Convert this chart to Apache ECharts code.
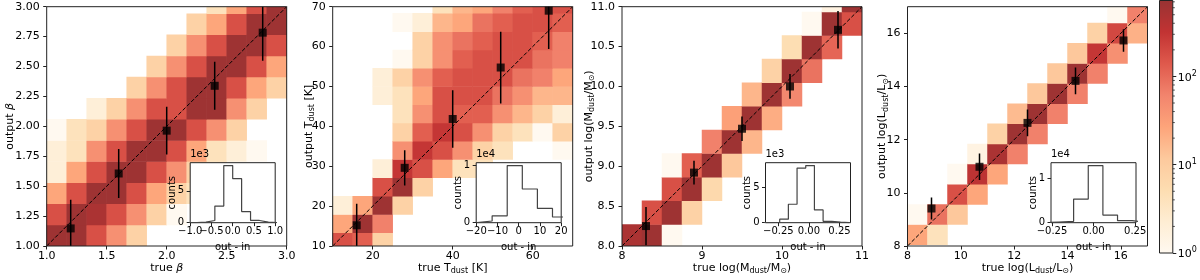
<!DOCTYPE html>
<html><head><meta charset="utf-8">
<script src="https://cdn.jsdelivr.net/npm/echarts@6/dist/echarts.min.js"></script>
<style>html,body{margin:0;padding:0;background:#fff}#c{width:1200px;height:280px}</style>
</head><body><div id="c"></div>
<script>
// ---------------- DATA ----------------
const p1Counts = [
 [650,650,170,45,8,0,0,0,0,0,0,0],
 [170,650,500,170,45,8,1,0,0,0,0,0],
 [26,170,650,650,170,26,8,4,0,0,0,0],
 [2,26,170,650,650,170,45,8,4,0,0,0],
 [2,4,45,170,650,650,170,26,4,2,1,0],
 [1,4,8,45,170,650,650,170,45,8,0,0],
 [0,0,2,8,45,170,170,650,650,45,8,0],
 [0,0,0,0,8,45,170,650,650,170,26,8],
 [0,0,0,0,0,8,45,170,650,650,170,26],
 [0,0,0,0,0,0,8,45,170,650,650,170],
 [0,0,0,0,0,0,0,8,26,170,650,650],
 [0,0,0,0,0,0,0,0,4,26,170,650]
];
const p2Counts = [
 [170,125,8,0,0,0,0,0,0,0,0,0],
 [26,650,65,0,0,0,0,0,0,0,0,0],
 [2,26,650,8,0,0,0,0,0,0,0,0],
 [0,0,170,650,8,0,0,0,0,0,0,0],
 [0,0,2,300,170,26,4,4,0,0,0,0],
 [0,0,0,45,300,170,45,8,4,0,0,1],
 [0,0,0,8,125,300,170,45,8,4,1,8],
 [0,0,0,4,45,170,125,125,45,18,8,2],
 [0,0,2,4,26,170,170,170,85,45,18,18],
 [0,0,2,8,45,125,170,170,170,85,65,26],
 [0,0,0,1,8,45,125,170,170,170,85,65],
 [0,0,0,0,8,45,85,125,170,170,125,65],
 [0,0,0,1,2,18,26,85,125,170,170,125],
 [0,0,0,0,0,4,18,26,65,125,170,170]
];
const p3Counts = [
 [500,650,1,0,0,0,0,0,0,0,0,0],
 [0,170,650,8,0,0,0,0,0,0,0,0],
 [0,0,170,650,6,0,0,0,0,0,0,0],
 [0,0,1,125,650,12,0,0,0,0,0,0],
 [0,0,0,0,65,650,18,0,0,0,0,0],
 [0,0,0,0,0,30,650,22,0,0,0,0],
 [0,0,0,0,0,0,18,650,55,0,0,0],
 [0,0,0,0,0,0,0,8,650,85,0,0],
 [0,0,0,0,0,0,0,0,5,650,110,0],
 [0,0,0,0,0,0,0,0,0,1,650,170],
 [0,0,0,0,0,0,0,0,0,0,1.5,650]
];
const p4Counts = [
 [26,4,0,0,0,0,0,0,0,0,0,0],
 [1,85,12,0,0,0,0,0,0,0,0,0],
 [0,0,170,26,0,0,0,0,0,0,0,0],
 [0,0,1,350,26,0,0,0,0,0,0,0],
 [0,0,0,1.5,500,65,0,0,0,0,0,0],
 [0,0,0,0,8,650,65,0,0,0,0,0],
 [0,0,0,0,0,16,650,65,0,0,0,0],
 [0,0,0,0,0,0,12,650,65,0,0,0],
 [0,0,0,0,0,0,0,12,650,65,0,0],
 [0,0,0,0,0,0,0,0,12,300,45,0],
 [0,0,0,0,0,0,0,0,0,8,200,20],
 [0,0,0,0,0,0,0,0,0,0,1,65]
];
const p1XBin = [1, 2/12], p1YBin = [1, 0.1765];
const p2XBin = [10, 5],   p2YBin = [8.75, 4.583];
const p3XBin = [8, 0.25], p3YBin = [7.975, 0.296];
const p4XBin = [8, 0.75], p4YBin = [8.05, 0.7575];

const p1MedX = [1.2,1.6,2.0,2.4,2.8], p1MedY = [1.147,1.606,1.964,2.339,2.783], p1Err = [0.24,0.205,0.2,0.2,0.235];
const p2MedX = [16,28,40,52,64],     p2MedY = [15.2,29.6,41.85,54.75,69.0],   p2Err = [5.4,4.4,7.2,9.0,9.6];
const p3MedX = [8.3,8.9,9.5,10.1,10.7], p3MedY = [8.25,8.92,9.47,10.0,10.71], p3Err = [0.24,0.15,0.155,0.155,0.235];
const p4MedX = [8.9,10.7,12.5,14.3,16.1], p4MedY = [9.41,10.98,12.63,14.21,15.73], p4Err = [0.41,0.5,0.5,0.5,0.42];

const h1Edges = [-1.05,-0.84,-0.63,-0.42,-0.21,0.0,0.21,0.42,0.63,0.84,1.05];
const h1Counts = [20,100,350,2600,8950,6900,1750,350,100,20];
const h2Edges = [-19.6,-12.5,-5.4,1.7,8.8,15.9,23.0];
const h2Counts = [300,1200,10000,5900,2500,1000];
const h3Edges = [-0.381,-0.31,-0.239,-0.168,-0.097,-0.026,0.045,0.116,0.187,0.258,0.329];
const h3Counts = [10,60,500,2600,7700,8050,1800,200,100,10];
const h4Edges = [-0.296,-0.208,-0.12,-0.032,0.056,0.144,0.232,0.32];
const h4Counts = [150,300,5300,12800,1700,450,80];

const p1Range = [1,3], p1XTicks = [1,1.5,2,2.5,3], p1XLabels = ['1.0','1.5','2.0','2.5','3.0'];
const p1YTicks = [1,1.25,1.5,1.75,2,2.25,2.5,2.75,3], p1YLabels = ['1.00','1.25','1.50','1.75','2.00','2.25','2.50','2.75','3.00'];
const p2Range = [10,70], p2XTicks = [20,40,60], p2XLabels = ['20','40','60'];
const p2YTicks = [10,20,30,40,50,60,70], p2YLabels = ['10','20','30','40','50','60','70'];
const p3Range = [8,11], p3XTicks = [8,9,10,11], p3XLabels = ['8','9','10','11'];
const p3YTicks = [8,8.5,9,9.5,10,10.5,11], p3YLabels = ['8.0','8.5','9.0','9.5','10.0','10.5','11.0'];
const p4Range = [8,17], p4XTicks = [8,10,12,14,16], p4XLabels = ['8','10','12','14','16'];
const p4YTicks = p4XTicks, p4YLabels = p4XLabels;

const i1XRange = [-1,1], i1XTicks = [-1,-0.5,0,0.5,1], i1XLabels = ['\u22121.0','\u22120.5','0.0','0.5','1.0'];
const i1YMax = 9400, i1YTicks = [0,5000], i1YLabels = ['0','5'], i1Off = '1e3';
const i2XRange = [-20,20], i2XTicks = [-20,-10,0,10,20], i2XLabels = ['\u221220','\u221210','0','10','20'];
const i2YMax = 10500, i2YTicks = [0,10000], i2YLabels = ['0','1'], i2Off = '1e4';
const i3XRange = [-0.355,0.34], i3XTicks = [-0.25,0,0.25], i3XLabels = ['\u22120.25','0.00','0.25'];
const i3YMax = 8450, i3YTicks = [0,5000], i3YLabels = ['0','5'], i3Off = '1e3';
const i4XRange = [-0.256,0.255], i4XTicks = [-0.25,0,0.25], i4XLabels = ['\u22120.25','0.00','0.25'];
const i4YMax = 13440, i4YTicks = [0,10000], i4YLabels = ['0','1'], i4Off = '1e4';

const cbLogMax = 2.86;
const cbTicks = [0,1,2], cbLabels = ['0','1','2'];
const cbMinor = [2,3,4,5,6,7,8,9,20,30,40,50,60,70,80,90,200,300,400,500,600,700];

// ---------------- STYLE / LAYOUT ----------------
const FONT = 'DejaVu Sans';
const AX = '#222';
const PANEL_LEFT = [46.7, 332.7, 622, 907.5];
const PANEL_TOP = 6.7, PANEL_SIZE = 240;
const INSET_DX = 143.5, INSET_TOP = 162.7, INSET_W = 85, INSET_H = 60;
const CMAP = [[0,[255,249,240]],[0.125,[254,237,211]],[0.25,[253,221,177]],[0.375,[253,201,157]],
  [0.5,[253,164,122]],[0.625,[242,132,109]],[0.75,[223,89,76]],[0.875,[194,51,51]],[1,[153,51,51]]];
function cmap(t){
  t = Math.max(0, Math.min(1, t));
  for (let i = 1; i < CMAP.length; i++) {
    if (t <= CMAP[i][0] + 1e-9) {
      const a = CMAP[i-1], b = CMAP[i], f = (t - a[0]) / (b[0] - a[0]);
      const c = a[1].map((v,k) => Math.round(v + (b[1][k] - v) * f));
      return 'rgb(' + c.join(',') + ')';
    }
  }
  return 'rgb(153,51,51)';
}
function lab(vals, labels){ return function(v){ for (let i=0;i<vals.length;i++) if (Math.abs(vals[i]-v) < 1e-7) return labels[i]; return ''; }; }

const nameStyle = {
  fontSize: 11, color: '#000', fontFamily: FONT, lineHeight: 14,
  rich: {
    g: {fontSize: 11, fontStyle: 'italic', fontFamily: FONT, lineHeight: 14, color:'#000'},
    s: {fontSize: 8, fontFamily: FONT, lineHeight: 8, verticalAlign: 'bottom', color:'#000'}
  }
};
const smallName = {fontSize:10, color:'#000', fontFamily:FONT};
function axis(grid, range, ticks, labels, fs, margin, extra){
  return Object.assign({
    type: 'value', gridIndex: grid, min: range[0], max: range[1], z: 5,
    nameMoveOverlap: false,
    splitLine: {show:false}, axisLine: {show:false, onZero:false},
    axisTick: {show:true, inside:false, length:3.5, customValues: ticks, lineStyle:{color:AX, width:1}},
    axisLabel: {show:true, customValues: ticks, formatter: lab(ticks, labels), fontSize: fs, color: '#000', margin: margin,
      fontFamily: FONT, hideOverlap: false, showMinLabel: true, showMaxLabel: true}
  }, extra || {});
}

const grids = [], xAxes = [], yAxes = [], series = [], graphics = [];
const panels = [
  {counts:p1Counts, xb:p1XBin, yb:p1YBin, r:p1Range, xt:p1XTicks, xl:p1XLabels, yt:p1YTicks, yl:p1YLabels,
   mx:p1MedX, my:p1MedY, me:p1Err, xn:'true {g|β}', yn:'output {g|β}', yg:30,
   he:h1Edges, hc:h1Counts, ixr:i1XRange, ixt:i1XTicks, ixl:i1XLabels, iym:i1YMax, iyt:i1YTicks, iyl:i1YLabels, off:i1Off},
  {counts:p2Counts, xb:p2XBin, yb:p2YBin, r:p2Range, xt:p2XTicks, xl:p2XLabels, yt:p2YTicks, yl:p2YLabels,
   mx:p2MedX, my:p2MedY, me:p2Err, xn:'true T{s|dust} [K]', yn:'output T{s|dust} [K]', yg:17,
   he:h2Edges, hc:h2Counts, ixr:i2XRange, ixt:i2XTicks, ixl:i2XLabels, iym:i2YMax, iyt:i2YTicks, iyl:i2YLabels, off:i2Off},
  {counts:p3Counts, xb:p3XBin, yb:p3YBin, r:p3Range, xt:p3XTicks, xl:p3XLabels, yt:p3YTicks, yl:p3YLabels,
   mx:p3MedX, my:p3MedY, me:p3Err, xn:'true log(M{s|dust}/M{s|\u2299})', yn:'output log(M{s|dust}/M{s|\u2299})', yg:26,
   he:h3Edges, hc:h3Counts, ixr:i3XRange, ixt:i3XTicks, ixl:i3XLabels, iym:i3YMax, iyt:i3YTicks, iyl:i3YLabels, off:i3Off},
  {counts:p4Counts, xb:p4XBin, yb:p4YBin, r:p4Range, xt:p4XTicks, xl:p4XLabels, yt:p4YTicks, yl:p4YLabels,
   mx:p4MedX, my:p4MedY, me:p4Err, xn:'true log(L{s|dust}/L{s|\u2299})', yn:'output log(L{s|dust}/L{s|\u2299})', yg:18,
   he:h4Edges, hc:h4Counts, ixr:i4XRange, ixt:i4XTicks, ixl:i4XLabels, iym:i4YMax, iyt:i4YTicks, iyl:i4YLabels, off:i4Off}
];

// main panels: grids 0..3, xAxis 0..3, yAxis 0..3
panels.forEach((p, i) => {
  grids.push({left: PANEL_LEFT[i], top: PANEL_TOP, width: PANEL_SIZE, height: PANEL_SIZE, show: true,
    borderColor: AX, borderWidth: 1, backgroundColor: 'transparent', z: 3});
  xAxes.push(axis(i, p.r, p.xt, p.xl, 11, 5, {name: p.xn, nameLocation:'middle', nameGap: 15, nameTextStyle: nameStyle}));
  yAxes.push(axis(i, p.r, p.yt, p.yl, 11, 7, {name: p.yn, nameLocation:'middle', nameGap: p.yg, nameTextStyle: nameStyle}));
});
// insets: grids 4..7, xAxis 4..7 (even ticks) and 8..11 (odd ticks), yAxis 4..7
panels.forEach((p, i) => {
  const g = 4 + i;
  const left = PANEL_LEFT[i] + INSET_DX;
  grids.push({left: left, top: INSET_TOP, width: INSET_W, height: INSET_H, show: true,
    borderColor: AX, borderWidth: 1, backgroundColor: '#fff', z: 4});
  const evT = p.ixt.filter((v,k) => k % 2 === 0), evL = p.ixl.filter((v,k) => k % 2 === 0);
  xAxes.push(axis(g, p.ixr, evT, evL, 10, 4, {position:'bottom', name:'out - in', nameLocation:'middle', nameGap: 20, nameTextStyle: smallName}));
  yAxes.push(axis(g, [0, p.iym], p.iyt, p.iyl, 10, 6, {position:'left', name:'counts', nameLocation:'middle', nameGap: 13, nameTextStyle: smallName}));
  graphics.push({type:'text', left: left, top: INSET_TOP - 13, z: 10, silent: true,
    style:{text: p.off, fontSize: 10, fontFamily: FONT, fill:'#000'}});
});
panels.forEach((p, i) => {
  const odT = p.ixt.filter((v,k) => k % 2 === 1), odL = p.ixl.filter((v,k) => k % 2 === 1);
  xAxes.push(axis(4 + i, p.ixr, odT, odL, 10, 4, {position:'bottom', offset: 0}));
});
// colorbar: grid 8, xAxis 12, yAxis 8
grids.push({left: 1159.5, top: 0.5, width: 13.3, height: 252.5, show: true, borderColor: AX, borderWidth: 1, backgroundColor:'transparent', z: 4});
xAxes.push({type:'value', gridIndex: 8, min:0, max:1, show:false});
yAxes.push({type:'value', gridIndex: 8, min:0, max:cbLogMax, position:'right', z:5,
  splitLine:{show:false}, axisLine:{show:false, onZero:false},
  axisTick:{show:true, inside:false, length:3.5, customValues: cbTicks, lineStyle:{color:AX}},
  axisLabel:{show:true, customValues: cbTicks, margin: 5, formatter: function(v){ return '{n|10}{u|' + lab(cbTicks, cbLabels)(v) + '}'; },
    rich:{ n:{fontSize:11, fontFamily:FONT, color:'#000', lineHeight:14, verticalAlign:'bottom'}, u:{fontSize:8, fontFamily:FONT, color:'#000', lineHeight:8, verticalAlign:'top'} } }
});
const CB_X = 12, CB_Y = 8;

function cellData(mat, xb, yb){
  const out = [];
  mat.forEach((row, r) => row.forEach((v, c) => {
    if (v > 0) out.push([xb[0] + c*xb[1], xb[0] + (c+1)*xb[1], yb[0] + r*yb[1], yb[0] + (r+1)*yb[1], v]);
  }));
  return out;
}
function renderCell(params, api){
  const a = api.coord([api.value(0), api.value(2)]);
  const b = api.coord([api.value(1), api.value(3)]);
  return {type:'rect', shape:{x: a[0]-0.25, y: b[1]-0.25, width: b[0]-a[0]+0.5, height: a[1]-b[1]+0.5},
    style:{fill: cmap(Math.log10(api.value(4)) / cbLogMax)}};
}
function renderErr(params, api){
  const x = api.value(0), y = api.value(1), e = api.value(2);
  const a = api.coord([x, y - e]), b = api.coord([x, y + e]);
  return {type:'line', shape:{x1:a[0], y1:a[1], x2:b[0], y2:b[1]}, style:{stroke:'#000', lineWidth:1.5}};
}
function histPoints(edges, counts){
  const pts = [[edges[0], 0]];
  counts.forEach((c, k) => { pts.push([edges[k], c]); pts.push([edges[k+1], c]); });
  pts.push([edges[edges.length-1], 0]);
  return pts;
}
panels.forEach((p, i) => {
  series.push({type:'custom', xAxisIndex:i, yAxisIndex:i, z:1, clip:true, renderItem: renderCell, data: cellData(p.counts, p.xb, p.yb), silent:true});
  series.push({type:'line', xAxisIndex:i, yAxisIndex:i, z:2, symbol:'none', data:[[p.r[0], p.r[0]], [p.r[1], p.r[1]]],
    lineStyle:{color:'#000', width:1, type:[4,2]}, silent:true});
  series.push({type:'custom', xAxisIndex:i, yAxisIndex:i, z:2, clip:true, renderItem: renderErr,
    data: p.mx.map((x, k) => [x, p.my[k], p.me[k]]), silent:true});
  series.push({type:'scatter', xAxisIndex:i, yAxisIndex:i, z:3, symbol:'rect', symbolSize:8, itemStyle:{color:'#000'},
    data: p.mx.map((x, k) => [x, p.my[k]]), silent:true});
  series.push({type:'line', xAxisIndex:4+i, yAxisIndex:4+i, z:6, symbol:'none', showSymbol:false, clip:true, data: histPoints(p.he, p.hc),
    lineStyle:{color:'#444', width:1.2}, silent:true});
});
series.push({type:'custom', xAxisIndex:CB_X, yAxisIndex:CB_Y, z:2, clip:false, silent:true, data:[[0, 0, 1, cbLogMax]],
  renderItem: function(params, api){
    const a = api.coord([api.value(0), api.value(1)]), b = api.coord([api.value(2), api.value(3)]);
    return {type:'rect', shape:{x:a[0], y:b[1], width:b[0]-a[0], height:a[1]-b[1]},
      style:{fill: new echarts.graphic.LinearGradient(0, 1, 0, 0, CMAP.map(s => ({offset:s[0], color:'rgb(' + s[1].join(',') + ')'})))}};
  }});
series.push({type:'custom', xAxisIndex:CB_X, yAxisIndex:CB_Y, z:5, clip:false, silent:true, data: cbMinor.map(v => [1, Math.log10(v)]),
  renderItem: function(params, api){
    const a = api.coord([api.value(0), api.value(1)]);
    return {type:'line', shape:{x1:a[0], y1:a[1], x2:a[0]+2, y2:a[1]}, style:{stroke:AX, lineWidth:0.8}};
  }});

const chart = echarts.init(document.getElementById('c'), null, {renderer:'canvas'});
chart.setOption({
  animation: false,
  backgroundColor: '#fff',
  textStyle: {fontFamily: FONT},
  grid: grids, xAxis: xAxes, yAxis: yAxes, series: series, graphic: graphics
});
</script>
</body></html>
